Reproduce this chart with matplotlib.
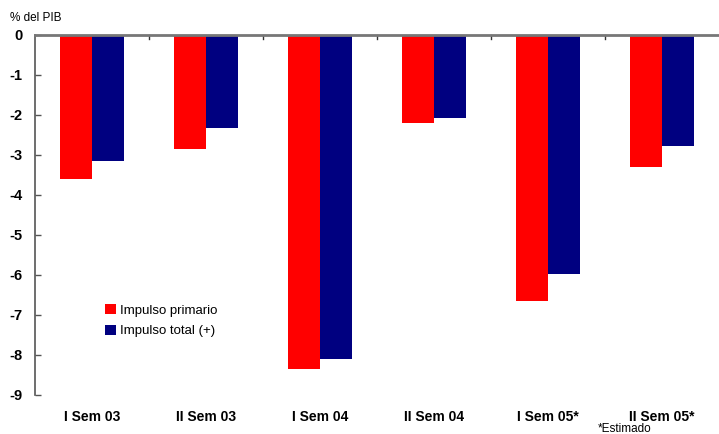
import matplotlib
matplotlib.use("Agg")
import matplotlib.pyplot as plt
import numpy as np

plt.rcParams['font.family'] = ['Liberation Sans Narrow', 'Liberation Sans', 'DejaVu Sans']

categories = ["I Sem 03", "II Sem 03", "I Sem 04", "II Sem 04", "I Sem 05*", "II Sem 05*"]
impulso_primario = [-3.6, -2.85, -8.35, -2.2, -6.65, -3.3]
impulso_total = [-3.15, -2.33, -8.1, -2.08, -5.97, -2.78]
y_ticks = [0, -1, -2, -3, -4, -5, -6, -7, -8, -9]

fig = plt.figure(figsize=(7.19, 4.34), dpi=100)
ax = fig.add_axes([35 / 719, 1 - 395 / 434, 1 - 35 / 719, 360 / 434])

x = np.arange(len(categories))
w = 0.285
ax.bar(x - w / 2, impulso_primario, w, color="#FF0000", label="Impulso primario")
ax.bar(x + w / 2, impulso_total, w, color="#000080", label="Impulso total (+)")

ax.set_xlim(-0.5, len(categories) - 0.5)
ax.set_ylim(-9, 0)
ax.set_yticks(y_ticks)
ax.set_yticklabels([str(v) for v in y_ticks], fontweight="bold", fontsize=10.5)
ax.tick_params(axis="y", direction="in", length=4, width=1, color="#555555", pad=9)

# category names below the plot; boundary ticks sit on the zero line
ax.set_xticks([])
for i, c in enumerate(categories):
    ax.text(i, -9.55, c, ha="center", va="center", fontweight="bold", fontsize=10)
for b in np.arange(0.5, len(categories) - 0.5, 1.0):
    ax.plot([b, b], [0, -0.1], color="#333333", lw=1, clip_on=False)

ax.spines["right"].set_visible(False)
ax.spines["bottom"].set_visible(False)
ax.spines["top"].set_color("#777777")
ax.spines["top"].set_linewidth(2)
ax.spines["left"].set_color("#555555")
ax.spines["left"].set_linewidth(1.2)

leg = ax.legend(loc="upper left", bbox_to_anchor=(0.085, 0.285), frameon=False,
                fontsize=9.5, handlelength=0.8, handleheight=0.8,
                handletextpad=0.3, labelspacing=0.6)

fig.text(10 / 719, 1 - 18 / 434, "% del PIB", fontsize=8.5, va="center", ha="left")
fig.text(598 / 719, 1 - 429 / 434, "*Estimado", fontsize=8.5, va="center", ha="left")

fig.savefig("out.png", dpi=100)
